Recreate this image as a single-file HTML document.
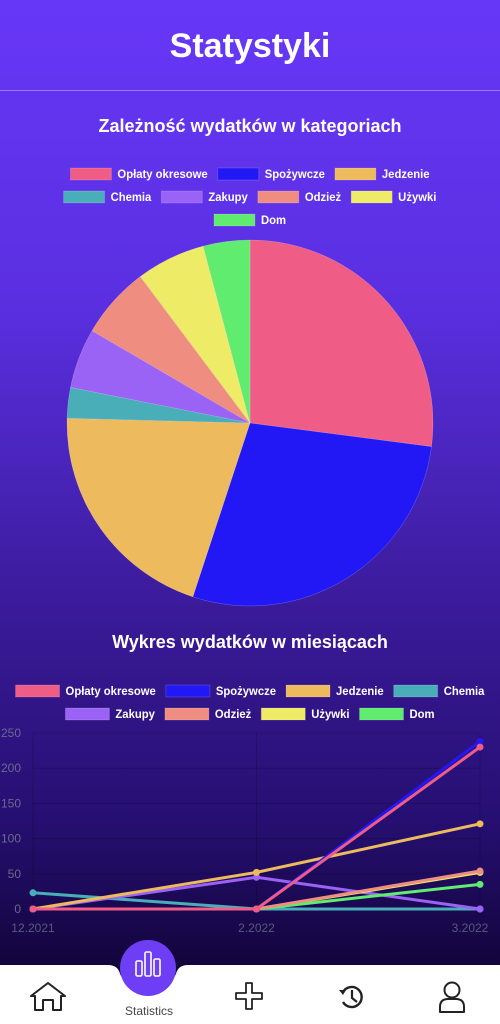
<!DOCTYPE html>
<html><head><meta charset="utf-8">
<style>
html,body{margin:0;padding:0;width:500px;height:1024px;overflow:hidden;font-family:"Liberation Sans",sans-serif;}
body{background:linear-gradient(180deg,#6737f7 0%,#5a2fe0 30%,#3a1a98 60%,#260f72 80%,#12043a 95%);position:relative;}
.title{position:absolute;top:27px;left:0;width:500px;text-align:center;color:#fff;font-weight:bold;font-size:34px;font-family:"Liberation Sans",sans-serif;}
.hr{position:absolute;top:90px;left:0;width:500px;height:1px;background:rgba(255,255,255,0.35);}
.h2{position:absolute;left:0;width:500px;text-align:center;color:#fff;font-weight:bold;font-size:18px;font-family:"Liberation Sans",sans-serif;}
svg text{font-family:"Liberation Sans",sans-serif;}
</style></head><body>
<div class="title">Statystyki</div>
<div class="hr"></div>
<div class="h2" style="top:116px">Zależność wydatków w kategoriach</div>
<svg id="pie" width="500" height="620" style="position:absolute;top:0;left:0"></svg>
<div class="h2" style="top:632px">Wykres wydatków w miesiącach</div>
<svg id="line" width="500" height="280" style="position:absolute;top:660px;left:0"></svg>

<svg width="500" height="110" style="position:absolute;top:914px;left:0">
<rect x="0" y="51" width="500" height="59" fill="#fff"/>
<path d="M108,51 Q118,51 120,60 A31,31 0 0 0 176,60 Q178,51 188,51 Z" fill="#12043a"/>
</svg>
<div style="position:absolute;top:0;left:0">
<svg width="500" height="1024" style="position:absolute;top:0;left:0">
<g><path d="M35,1010 L35,996 L31,996 L48,983 L65,996 L61,996 L61,1010 L53,1010 L53,1000 L43,1000 L43,1010 Z" fill="none" stroke="#222" stroke-width="2" stroke-linejoin="round"/></g>
<g>
<circle cx="148" cy="968" r="28" fill="#6d3ef6"/>
<rect x="136" y="961" width="6" height="15" rx="1.5" fill="none" stroke="#fff" stroke-width="1.6"/>
<rect x="145" y="952" width="6" height="24" rx="1.5" fill="none" stroke="#fff" stroke-width="1.6"/>
<rect x="154" y="959" width="6" height="17" rx="1.5" fill="none" stroke="#fff" stroke-width="1.6"/>
<text x="149" y="1015" font-size="12" fill="#444" text-anchor="middle">Statistics</text></g>
<g><path d="M246,983 h6 v10 h10 v6 h-10 v10 h-6 v-10 h-10 v-6 h10 Z" fill="none" stroke="#222" stroke-width="1.8" stroke-linejoin="round"/></g>
<g><path d="M343,992 A10,10 0 1 1 343,1002" fill="none" stroke="#222" stroke-width="2.4"/><path d="M339,990 l4,5 l3,-5z" fill="#222"/><path d="M352,990 v8 l5,4" fill="none" stroke="#222" stroke-width="2.2"/></g>
<g><circle cx="452" cy="990" r="7.5" fill="none" stroke="#222" stroke-width="2"/><path d="M440,1012 v-5 q0,-8 8,-8 h8 q8,0 8,8 v5 z" fill="none" stroke="#222" stroke-width="2" stroke-linejoin="round"/></g>
</svg></div>

<script>
const categories=["Opłaty okresowe","Spożywcze","Jedzenie","Chemia","Zakupy","Odzież","Używki","Dom"];
const colors=["#ef5d87","#2218f5","#edbb5e","#4aaeb9","#9a62f5","#ee8d80","#eeeb66","#5fec6f"];
const pieValues=[230,238,173,23,45,54,52,35];
const months=["12.2021","2.2022","3.2022"];
const sOplaty=[0,0,230];
const sSpozywcze=[0,0,238];
const sJedzenie=[0,52,121];
const sChemia=[23,0,0];
const sZakupy=[0,45,0];
const sOdziez=[0,0,54];
const sUzywki=[0,0,52];
const sDom=[0,0,35];
const yTicks=[0,50,100,150,200,250];
const series=[sOplaty,sSpozywcze,sJedzenie,sChemia,sZakupy,sOdziez,sUzywki,sDom];
const NS="http://www.w3.org/2000/svg";
function mk(p,t,a){const e=document.createElementNS(NS,t);for(const k in a)e.setAttribute(k,a[k]);p.appendChild(e);return e;}

function legend(svg,rows,y0,rowH,boxW,gap,fs,prefix){
  rows.forEach((row,ri)=>{
    const items=row.map(i=>{
      const g=mk(svg,'g',{});
      
      
      const r=mk(g,'rect',{y:y0+ri*rowH-6,width:boxW,height:12,fill:colors[i],stroke:'rgba(255,255,255,0.15)'});
      const t=mk(g,'text',{y:y0+ri*rowH+4,'font-size':fs,fill:'#fff','font-weight':'bold'});
      t.textContent=categories[i];
      const w=t.getComputedTextLength()*0.94;
      t.setAttribute('textLength',w);t.setAttribute('lengthAdjust','spacingAndGlyphs');
      return {r,t,w:boxW+6+w};
    });
    const tot=items.reduce((a,b)=>a+b.w,0)+gap*(items.length-1);
    let x=250-tot/2;
    items.forEach(it=>{it.r.setAttribute('x',x);it.t.setAttribute('x',x+boxW+6);x+=it.w+gap;});
  });
}
const pie=document.getElementById('pie');
legend(pie,[[0,1,2],[3,4,5,6],[7]],174,23,41,10,12,'pie');
const total=pieValues.reduce((a,b)=>a+b,0);
const cx=250,cy=423,R=183;let ang=0;
pieValues.forEach((v,i)=>{
  const a0=ang,a1=ang+v/total*2*Math.PI;ang=a1;
  const p=(a)=>[cx+R*Math.sin(a),cy-R*Math.cos(a)];
  const [x0,y0]=p(a0),[x1,y1]=p(a1);
  const s=mk(pie,'path',{d:`M${cx},${cy} L${x0},${y0} A${R},${R} 0 ${a1-a0>Math.PI?1:0} 1 ${x1},${y1} Z`,fill:colors[i],stroke:'rgba(255,255,255,0.3)','stroke-width':0.5});
  
  
});

const line=document.getElementById('line');
legend(line,[[0,1,2,3],[4,5,6,7]],31,23,44,10,12,'line');
const X0=33,X1=480,Y0=249,Y1=73;
const xs=i=>X0+i*(X1-X0)/(months.length-1);
const ys=v=>Y0-(v/250)*(Y0-Y1);
yTicks.forEach(t=>{
  mk(line,'line',{x1:X0,x2:X1,y1:ys(t),y2:ys(t),stroke:'rgba(0,0,0,0.18)'});
  const tx=mk(line,'text',{x:X0-12,y:ys(t)+4,'font-size':12,fill:'#6a6a8a','text-anchor':'end'});
  tx.textContent=t;
  
  
});
months.forEach((m,i)=>{
  mk(line,'line',{x1:xs(i),x2:xs(i),y1:Y1,y2:Y0,stroke:'rgba(0,0,0,0.18)'});
  const tx=mk(line,'text',{x:i==2?X1-10:xs(i),y:Y0+23,'font-size':12,fill:'#5a5a7a','text-anchor':'middle'});
  tx.textContent=m;
  
  
});
const order=[3,4,2,6,7,5,1,0];
order.forEach(si=>{
  const d=series[si].map((v,i)=>(i?'L':'M')+xs(i)+','+ys(v)).join(' ');
  const pl=mk(line,'path',{d:d,fill:'none',stroke:colors[si],'stroke-width':3});
  
  
  series[si].forEach((v,i)=>{
    const c=mk(line,'circle',{cx:xs(i),cy:ys(v),r:3.5,fill:colors[si]});
    
    
  });
});
</script>
</body></html>
